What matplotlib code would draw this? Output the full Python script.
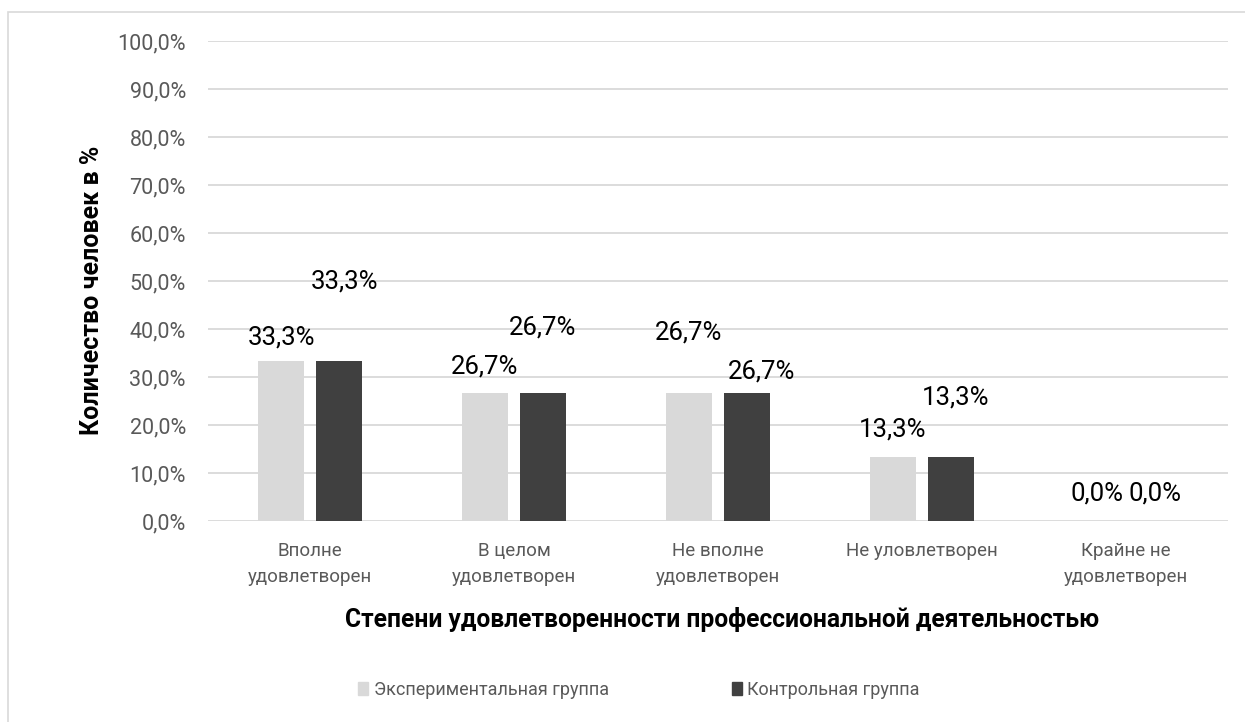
import numpy as np
import matplotlib
matplotlib.use("Agg")
import matplotlib.pyplot as plt
from matplotlib.patches import Patch, Rectangle
from matplotlib.ticker import FuncFormatter

plt.rcParams['font.family'] = ['Roboto', 'DejaVu Sans']

categories = ["Вполне\nудовлетворен", "В целом\nудовлетворен", "Не вполне\nудовлетворен",
              "Не уловлетворен", "Крайне не\nудовлетворен"]
series_names = ["Экспериментальная группа", "Контрольная группа"]
exp_values = [33.3, 26.7, 26.7, 13.3, 0.0]
ctrl_values = [33.3, 26.7, 26.7, 13.3, 0.0]
yticks = [0, 10, 20, 30, 40, 50, 60, 70, 80, 90, 100]

# label placement offsets (pixels, dx, dy) - mimic excel's shuffled labels
exp_label_off = [(0, 24), (0, 26), (0, 60), (0, 28), (0, 28)]
ctrl_label_off = [(6, 80), (0, 65), (15, 21), (5, 60), (0, 28)]

light = "#D9D9D9"
dark = "#404040"
grid = "#D9D9D9"

W, H = 1245, 722
fig = plt.figure(figsize=(W / 100, H / 100), dpi=100)
ax = fig.add_axes([208 / W, 1 - 521 / H, (1228 - 208) / W, (521 - 41) / H])

# chart border
fig.patches.append(Rectangle((7.5 / W, -0.1), 1.2, 1 - 12 / H + 0.1, transform=fig.transFigure,
                             fill=False, edgecolor=grid, linewidth=1.2))

x = np.arange(len(categories))
bw = 0.225
off = 0.142
b1 = ax.bar(x - off, exp_values, bw, color=light, zorder=3)
b2 = ax.bar(x + off, ctrl_values, bw, color=dark, zorder=3)

px = 0.72  # pixels -> points
for bars, vals, offs in ((b1, exp_values, exp_label_off), (b2, ctrl_values, ctrl_label_off)):
    for rect, v, (dx, dy) in zip(bars, vals, offs):
        ax.annotate(f"{v:.1f}%".replace(".", ","),
                    (rect.get_x() + rect.get_width() / 2, v),
                    xytext=(dx * px, dy * px), textcoords="offset points",
                    ha="center", va="center", fontsize=18.5, color="#000000")

ax.set_xlim(-0.5, len(categories) - 0.5)
ax.set_ylim(0, 100)
ax.set_yticks(yticks)
ax.yaxis.set_major_formatter(FuncFormatter(lambda v, p: f"{v:.1f}%".replace(".", ",")))
ax.set_xticks(x)
ax.set_xticklabels(categories, linespacing=1.6)
ax.tick_params(axis="y", length=0, pad=16, labelsize=15.5, labelcolor="#595959")
ax.tick_params(axis="x", length=0, pad=15, labelsize=13.5, labelcolor="#595959")
ax.grid(axis="y", color=grid, linewidth=1.3, zorder=0)
for s in ax.spines.values():
    s.set_visible(False)

fig.text(92 / W, 1 - 290 / H, "Количество человек в %", rotation=90, ha="center", va="center",
         fontsize=18, fontweight="bold")
fig.text(722 / W, 1 - 620 / H, "Степени удовлетворенности профессиональной деятельностью",
         ha="center", va="center", fontsize=17.7, fontweight="bold")

handles = [Patch(color=light), Patch(color=dark)]
leg = fig.legend(handles, series_names, loc="center", bbox_to_anchor=(639 / W, 1 - 690 / H),
                 ncol=2, frameon=False, fontsize=13, handlelength=0.55, handleheight=0.75,
                 handletextpad=0.3, columnspacing=6.8, labelcolor="#595959")

fig.savefig("out.png", dpi=100)
